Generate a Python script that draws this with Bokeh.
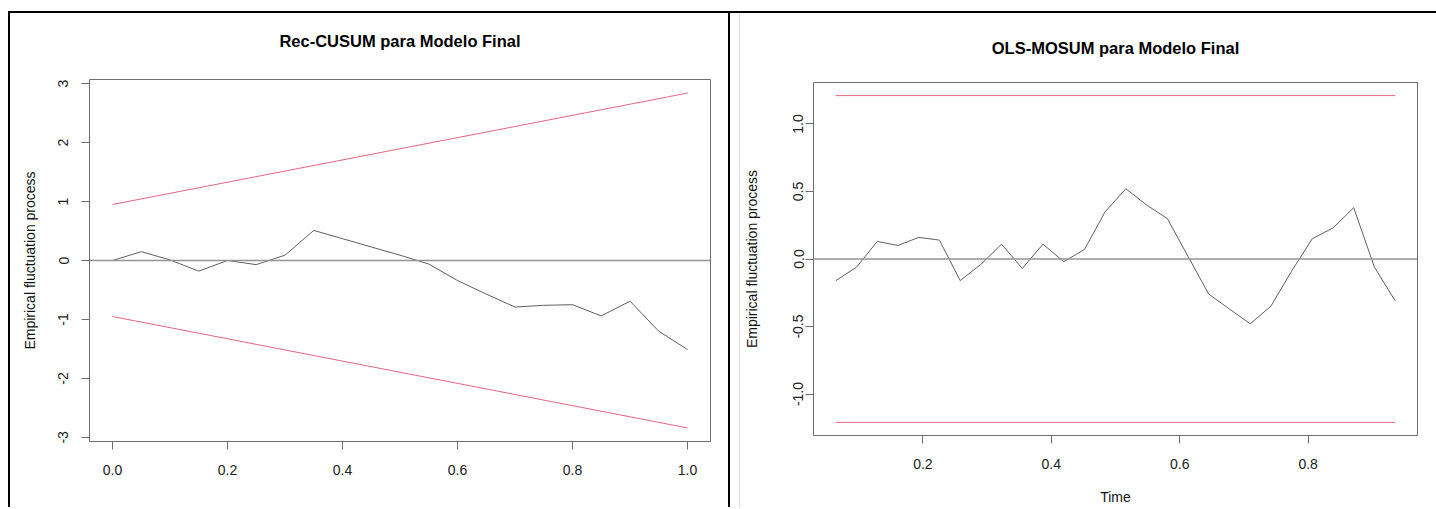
from bokeh.plotting import figure
from bokeh.models import Range1d, FixedTicker, Spacer, Span, LinearAxis
from bokeh.layouts import row, column
from bokeh.embed import file_html
from bokeh.resources import INLINE

# ---------------- data: Rec-CUSUM ----------------
rec_time = [0.00, 0.05, 0.10, 0.15, 0.20, 0.25, 0.30, 0.35, 0.40, 0.45, 0.50,
            0.55, 0.60, 0.65, 0.70, 0.75, 0.80, 0.85, 0.90, 0.95, 1.00]
rec_cusum = [0.00, 0.15, 0.01, -0.18, 0.00, -0.07, 0.09, 0.51, 0.37, 0.23, 0.09,
             -0.06, -0.34, -0.57, -0.79, -0.76, -0.75, -0.94, -0.69, -1.20, -1.51]
rec_bound_time = [0.0, 1.0]
rec_upper = [0.95, 2.84]
rec_lower = [-0.95, -2.84]
rec_xticks = [0.0, 0.2, 0.4, 0.6, 0.8, 1.0]
rec_xlabels = ["0.0", "0.2", "0.4", "0.6", "0.8", "1.0"]
rec_yticks = [-3, -2, -1, 0, 1, 2, 3]
rec_ylabels = ["-3", "-2", "-1", "0", "1", "2", "3"]

# ---------------- data: OLS-MOSUM ----------------
mos_time = [0.0645, 0.0968, 0.1290, 0.1613, 0.1935, 0.2258, 0.2581, 0.2903,
            0.3226, 0.3548, 0.3871, 0.4194, 0.4516, 0.4839, 0.5161, 0.5484,
            0.5806, 0.6129, 0.6452, 0.6774, 0.7097, 0.7419, 0.7742, 0.8065,
            0.8387, 0.8710, 0.9032, 0.9355]
mos_values = [-0.16, -0.06, 0.13, 0.10, 0.16, 0.14, -0.16, -0.04,
              0.11, -0.07, 0.11, -0.02, 0.07, 0.35, 0.52, 0.40,
              0.30, 0.02, -0.26, -0.37, -0.48, -0.35, -0.09, 0.15,
              0.23, 0.38, -0.06, -0.31]
mos_bound_time = [0.0645, 0.9355]
mos_upper = [1.21, 1.21]
mos_lower = [-1.21, -1.21]
mos_xticks = [0.2, 0.4, 0.6, 0.8]
mos_xlabels = ["0.2", "0.4", "0.6", "0.8"]
mos_yticks = [-1.0, -0.5, 0.0, 0.5, 1.0]
mos_ylabels = ["-1.0", "-0.5", "0.0", "0.5", "1.0"]

FONT = "Liberation Sans"
BOX = "#6e6e6e"
RED = "#e4687e"
SERIES = "#606060"
ZERO = "#959595"
H = 494


def make_panel(width, borders, title, title_standoff, xr, yr,
               xticks, xlabels, yticks, ylabels,
               ylab_standoff, ytick_standoff, xlabel=None, xlab_standoff=0):
    left, right, top, bottom = borders
    p = figure(width=width, height=H, x_range=Range1d(*xr), y_range=Range1d(*yr),
               output_backend="svg", toolbar_location=None,
               min_border_left=left, min_border_right=right,
               min_border_top=top, min_border_bottom=bottom,
               background_fill_color="white", border_fill_color="white")
    p.xgrid.visible = False
    p.ygrid.visible = False
    p.outline_line_color = BOX
    p.outline_line_width = 1
    p.outline_line_alpha = 1
    for ax in p.axis:
        ax.axis_line_color = None
        ax.major_tick_line_color = BOX
        ax.major_tick_out = 8
        ax.major_tick_in = 0
        ax.minor_tick_line_color = None
        ax.major_label_text_font = FONT
        ax.major_label_text_font_size = "14px"
        ax.major_label_text_color = "#222222"
        ax.axis_label_text_font = FONT
        ax.axis_label_text_font_size = "14px"
        ax.axis_label_text_font_style = "normal"
        ax.axis_label_text_color = "#111111"
    p.xaxis.ticker = FixedTicker(ticks=xticks)
    p.xaxis.major_label_overrides = {t: s for t, s in zip(xticks, xlabels)}
    p.xaxis.major_label_standoff = 15
    p.yaxis.ticker = FixedTicker(ticks=yticks)
    p.yaxis.major_label_overrides = {t: s for t, s in zip(yticks, ylabels)}
    p.yaxis.major_label_orientation = "parallel"
    p.yaxis.major_label_standoff = ytick_standoff
    p.yaxis.axis_label = "Empirical fluctuation process"
    p.yaxis.axis_label_standoff = ylab_standoff
    if xlabel:
        p.xaxis.axis_label = xlabel
        p.xaxis.axis_label_standoff = xlab_standoff
    p.add_layout(Span(location=0, dimension="width", line_color=ZERO, line_width=1.6))
    # main title: label of a bare axis above the box (centred over the box)
    t_ax = LinearAxis(ticker=FixedTicker(ticks=[]), axis_label=title,
                      axis_line_color=None, major_tick_line_color=None,
                      minor_tick_line_color=None, major_tick_out=0, major_tick_in=0,
                      major_label_standoff=0, axis_label_standoff=title_standoff,
                      axis_label_text_font=FONT, axis_label_text_font_size="16.5px",
                      axis_label_text_font_style="bold", axis_label_text_color="black")
    p.add_layout(t_ax, "above")
    return p


p1 = make_panel(718, (79, 18, 66, 66), "Rec-CUSUM para Modelo Final", 30,
                (-0.04, 1.04), (-3.07, 3.07),
                rec_xticks, rec_xlabels, rec_yticks, rec_ylabels,
                ylab_standoff=18, ytick_standoff=13)
p1.line(rec_bound_time, rec_upper, line_color=RED, line_width=1)
p1.line(rec_bound_time, rec_lower, line_color=RED, line_width=1)
p1.line(rec_time, rec_cusum, line_color=SERIES, line_width=1)

p2 = make_panel(696, (72, 19, 69, 71), "OLS-MOSUM para Modelo Final", 26,
                (0.0297, 0.9703), (-1.307, 1.307),
                mos_xticks, mos_xlabels, mos_yticks, mos_ylabels,
                ylab_standoff=31, ytick_standoff=2, xlabel="Time", xlab_standoff=17)
p2.line(mos_bound_time, mos_upper, line_color=RED, line_width=1)
p2.line(mos_bound_time, mos_lower, line_color=RED, line_width=1)
p2.line(mos_time, mos_values, line_color=SERIES, line_width=1)


def bar(w, h, color):
    return Spacer(width=w, height=h, styles={"background-color": color})


top_line = row(bar(8, 2, "#ffffff"), bar(1428, 2, "#000000"))
panels = row(bar(8, H, "#ffffff"), bar(2, H, "#000000"), column(p1),
             bar(2, H, "#000000"), bar(9, H, "#ffffff"), bar(1, H, "#e2e2e2"),
             column(p2))
layout = column(bar(1436, 11, "#ffffff"), top_line, panels)

open("out.html", "w").write(file_html(layout, INLINE))
